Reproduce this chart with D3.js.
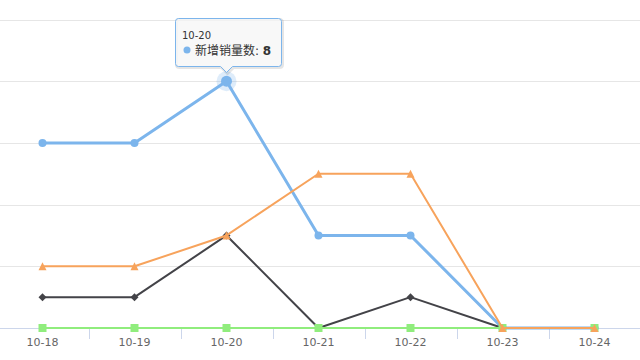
<!DOCTYPE html>
<html><head><meta charset="utf-8">
<script src="https://cdn.jsdelivr.net/npm/d3@7"></script>
<style>body{margin:0;background:#fff;}svg{display:block;font-family:"DejaVu Sans","Noto Sans CJK SC",sans-serif;}</style>
</head><body>
<svg id="c" width="640" height="360"></svg>
<script>
const categories = ["10-18","10-19","10-20","10-21","10-22","10-23","10-24"];
const blueValues = [6,6,8,3,3,0,0];
const blackValues = [1,1,3,0,1,0,0];
const greenValues = [0,0,0,0,0,0,0];
const orangeValues = [2,2,3,5,5,0,0];
const yTicks = [0,2,4,6,8,10];
const seriesNames = ["新增销量数","系列2","系列3","系列4"];

const svg = d3.select("#c");
const x = d3.scaleBand().domain(categories).range([-3.5, 640.5]);
const y = d3.scaleLinear().domain([0,10]).range([328, 19.5]);
const cx = d => x(d) + x.bandwidth()/2;

// grid
svg.append("g").selectAll("line").data(yTicks.filter(t=>t>0)).join("line")
  .attr("x1",0).attr("x2",640).attr("y1",d=>Math.round(y(d))+0.5).attr("y2",d=>Math.round(y(d))+0.5)
  .attr("stroke","#e6e6e6").attr("stroke-width",1);

// x axis
const xAxis = d3.axisBottom(x).tickSize(0).tickPadding(0);
const gx = svg.append("g").attr("transform","translate(0,328.5)").call(xAxis);
gx.select(".domain").remove();
gx.selectAll("text").attr("fill","#666").attr("font-size","11px").attr("dy","17").attr("font-family","DejaVu Sans");
svg.append("line").attr("x1",0).attr("x2",640).attr("y1",328.5).attr("y2",328.5).attr("stroke","#ccd6eb");
svg.append("g").selectAll("line").data(categories.slice(0,-1)).join("line")
  .attr("x1",d=>Math.round(x(d)+x.bandwidth())+0.5).attr("x2",d=>Math.round(x(d)+x.bandwidth())+0.5)
  .attr("y1",328.5).attr("y2",339).attr("stroke","#ccd6eb");

const r = 4;
const symbols = {
  circle: `M${r},0A${r},${r},0,1,1,${-r},0A${r},${r},0,1,1,${r},0Z`,
  diamond: `M0,${-r}L${r},0L0,${r}L${-r},0Z`,
  square: `M${-r},${-r}L${r},${-r}L${r},${r}L${-r},${r}Z`,
  triangle: `M0,${-r}L${r},${r}L${-r},${r}Z`
};
const line = d3.line().x((d,i)=>cx(categories[i])).y(d=>y(d));
const series = [
  {name:seriesNames[0], values:blueValues, color:"#7cb5ec", sym:"circle", w:3},
  {name:seriesNames[1], values:blackValues, color:"#434348", sym:"diamond", w:2},
  {name:seriesNames[2], values:greenValues, color:"#90ed7d", sym:"square", w:2},
  {name:seriesNames[3], values:orangeValues, color:"#f7a35c", sym:"triangle", w:2}
];
series.forEach(s=>{
  const g = svg.append("g");
  g.append("path").attr("d",line(s.values)).attr("fill","none").attr("stroke",s.color)
    .attr("stroke-width",s.w).attr("stroke-linejoin","round").attr("stroke-linecap","round");
  g.selectAll("path.m").data(s.values).join("path").attr("class","m")
    .attr("transform",(d,i)=>`translate(${cx(categories[i])},${y(d)})`)
    .attr("d",symbols[s.sym]).attr("fill",s.color);
});

// hover halo on 10-20 blue
const hx = cx("10-20"), hy = y(blueValues[2]);
svg.append("circle").attr("cx",hx).attr("cy",hy).attr("r",10).attr("fill","#7cb5ec").attr("opacity",0.25);
svg.append("circle").attr("cx",hx).attr("cy",hy).attr("r",5.5).attr("fill","#7cb5ec");

// tooltip
const tx = 175.5, ty = 18.5, tw = 106, th = 48;
const tip = svg.append("g");
const pathD = `M${tx+3},${ty} L${tx+tw-3},${ty} Q${tx+tw},${ty} ${tx+tw},${ty+3} L${tx+tw},${ty+th-3} Q${tx+tw},${ty+th} ${tx+tw-3},${ty+th} L${hx+6},${ty+th} L${hx},${ty+th+6} L${hx-6},${ty+th} L${tx+3},${ty+th} Q${tx},${ty+th} ${tx},${ty+th-3} L${tx},${ty+3} Q${tx},${ty} ${tx+3},${ty} Z`;
tip.append("path").attr("d",pathD).attr("transform","translate(1,1)").attr("fill","none").attr("stroke","#000").attr("stroke-opacity",0.1).attr("stroke-width",3);
tip.append("path").attr("d",pathD).attr("fill","rgba(247,247,247,0.85)").attr("stroke","#7cb5ec").attr("stroke-width",1);
tip.append("text").attr("x",182).attr("y",39).attr("font-size","10px").attr("fill","#333").text(categories[2]);
tip.append("circle").attr("cx",187).attr("cy",50).attr("r",3.5).attr("fill","#7cb5ec");
const t2 = tip.append("text").attr("x",195).attr("y",55).attr("font-size","12px").attr("fill","#333");
t2.append("tspan").text(seriesNames[0]+": ");
t2.append("tspan").attr("font-weight","bold").text(blueValues[2]);
</script>
</body></html>
